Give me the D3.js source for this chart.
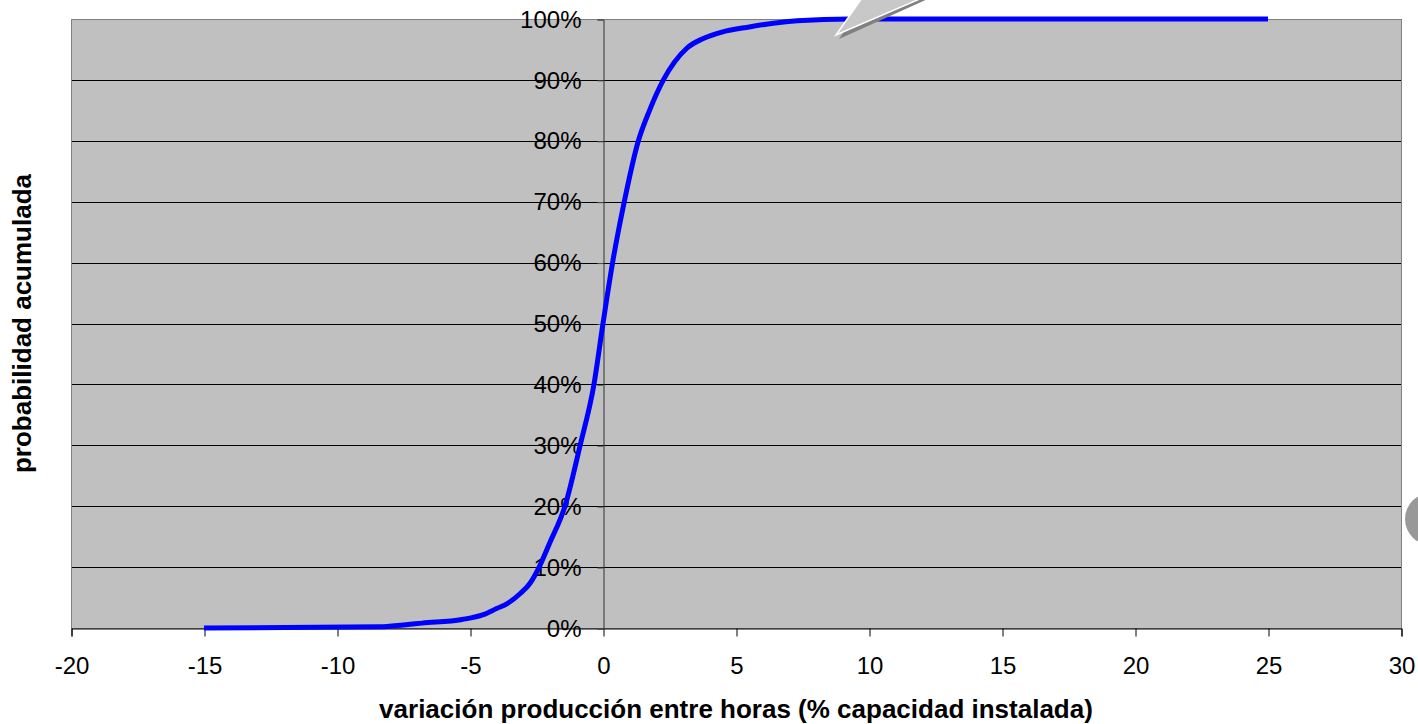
<!DOCTYPE html>
<html>
<head>
<meta charset="utf-8">
<script src="https://cdn.jsdelivr.net/npm/d3@7"></script>
<style>
  html, body { margin: 0; padding: 0; background: #ffffff; }
  svg { display: block; font-family: "Liberation Sans", Arial, sans-serif; }
</style>
</head>
<body>
<svg id="chart" width="1418" height="724"></svg>
<script>
// Cumulative distribution of hour-to-hour production change
const variation = [-15, -8.4, -7.5, -6.8, -5.3, -4.5, -4.0, -3.6, -3.1, -2.75, -2.4, -2.0, -1.43, -0.86, -0.34, 0.0, 0.36, 0.8, 1.33, 1.75, 2.27, 3.15, 3.77, 4.5, 5.5, 6.4, 7.3, 9.3, 25];
const cumulative = [0, 0.2, 0.5, 0.8, 1.4, 2.2, 3.2, 4.0, 5.7, 7.3, 10, 14, 20, 30, 40, 50, 60, 70, 80, 85, 90, 95.2, 96.8, 97.9, 98.7, 99.3, 99.7, 100, 100];

const xTicks = [-20, -15, -10, -5, 0, 5, 10, 15, 20, 25, 30];
const yTicks = [0, 10, 20, 30, 40, 50, 60, 70, 80, 90, 100];
const xTitle = "variación producción entre horas (% capacidad instalada)";
const yTitle = "probabilidad acumulada";

const svg = d3.select("#chart");
const plot = { left: 71, right: 1401, top: 19, bottom: 628 };

const x = d3.scaleLinear().domain([-20, 30]).range([plot.left, plot.right]);
const y = d3.scaleLinear().domain([0, 100]).range([plot.bottom, plot.top]);

// plot background
svg.append("rect")
  .attr("x", plot.left).attr("y", plot.top)
  .attr("width", plot.right - plot.left).attr("height", plot.bottom - plot.top)
  .attr("fill", "#c0c0c0");

// horizontal gridlines
svg.append("g").selectAll("line").data(yTicks.filter(d => d > 0 && d < 100)).join("line")
  .attr("x1", plot.left).attr("x2", plot.right)
  .attr("y1", d => Math.round(y(d)) + 0.5).attr("y2", d => Math.round(y(d)) + 0.5)
  .attr("stroke", "#000").attr("stroke-width", 1);

// plot border
svg.append("rect")
  .attr("x", plot.left + 0.5).attr("y", plot.top + 0.5)
  .attr("width", plot.right - plot.left).attr("height", plot.bottom - plot.top)
  .attr("fill", "none").attr("stroke", "#808080").attr("stroke-width", 1);

// x axis along the bottom
const xAxis = svg.append("g")
  .attr("transform", `translate(0.5,${plot.bottom + 0.5})`)
  .call(d3.axisBottom(x).tickValues(xTicks).tickSize(8).tickPadding(20).tickFormat(d => String(d)));
xAxis.select(".domain").attr("stroke", "#000");
xAxis.selectAll(".tick line").attr("stroke", "#000");
xAxis.selectAll("text").attr("font-size", 24).attr("fill", "#000")
  .attr("font-family", "'Liberation Sans', Arial, sans-serif");

// y axis crossing at zero
const yAxis = svg.append("g")
  .attr("transform", `translate(${Math.round(x(0)) + 0.5},0.5)`)
  .call(d3.axisLeft(y).tickValues(yTicks).tickSize(6).tickPadding(16).tickFormat(d => d + "%"));
yAxis.select(".domain").attr("stroke", "#333");
yAxis.selectAll(".tick line").attr("stroke", "#555");
yAxis.selectAll("text").attr("font-size", 24).attr("fill", "#000")
  .attr("font-family", "'Liberation Sans', Arial, sans-serif");

// cumulative curve
const pts = variation.map((v, i) => [v, cumulative[i]]);
svg.append("path")
  .datum(pts)
  .attr("fill", "none")
  .attr("stroke", "#0000ff")
  .attr("stroke-width", 5)
  .attr("stroke-linejoin", "round")
  .attr("d", d3.line().x(d => x(d[0])).y(d => y(d[1])).curve(d3.curveMonotoneX));

// axis titles
svg.append("text")
  .attr("x", (plot.left + plot.right) / 2).attr("y", 718)
  .attr("text-anchor", "middle")
  .attr("font-size", 26).attr("font-weight", "bold")
  .text(xTitle);

svg.append("text")
  .attr("transform", `translate(31,${(plot.top + plot.bottom) / 2}) rotate(-90)`)
  .attr("text-anchor", "middle")
  .attr("font-size", 26).attr("font-weight", "bold")
  .text(yTitle);

// callout pointer at the top
svg.append("path")
  .attr("d", "M 866 -2 L 839 39 L 930 -2 Z")
  .attr("fill", "#808080");
svg.append("path")
  .attr("d", "M 862 -2 L 836 35 L 922 -2 Z")
  .attr("fill", "#c8c8c8").attr("stroke", "#ffffff").attr("stroke-width", 1.5);

// callout bubble at the right edge
svg.append("circle").attr("cx", 1429).attr("cy", 522).attr("r", 27).attr("fill", "#ffffff");
svg.append("circle").attr("cx", 1431).attr("cy", 519).attr("r", 26).attr("fill", "#999999");
</script>
</body>
</html>
